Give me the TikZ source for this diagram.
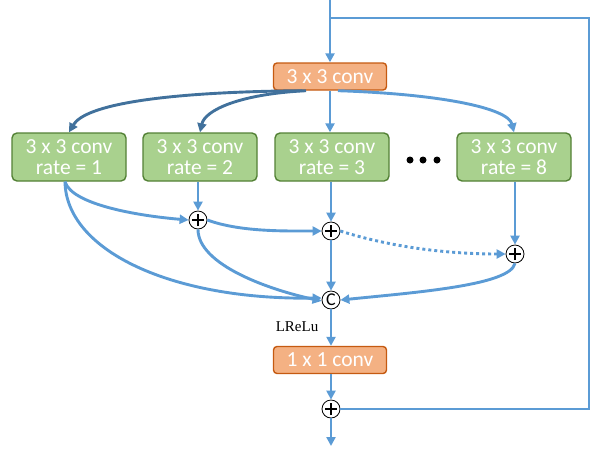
\documentclass[tikz,border=0pt]{standalone}
\usepackage{fontspec}
\setmainfont{Carlito}
\newfontfamily\timesf{Liberation Serif}
\usetikzlibrary{arrows.meta}
\definecolor{lblue}{HTML}{5B9BD5}
\definecolor{dblue}{HTML}{41719C}
\definecolor{ofill}{HTML}{F4B183}
\definecolor{odraw}{HTML}{C55A11}
\definecolor{gfill}{HTML}{A9D18E}
\definecolor{gdraw}{HTML}{538135}
\begin{document}
\begin{tikzpicture}[x=1pt,y=-1pt,
  line/.style={draw=lblue, line width=2.9pt},
  conn/.style={line, -{Triangle[length=9pt,width=9pt]}},
  connd/.style={conn, draw=dblue},
  obox/.style={draw=odraw, fill=ofill, line width=1.4pt, rounded corners=3.5pt,
    minimum width=113pt, minimum height=27pt, inner sep=0pt, text=white,
    font=\fontsize{21.5}{21.5}\selectfont},
  gbox/.style={draw=gdraw, fill=gfill, line width=1.4pt, rounded corners=5pt,
    minimum width=114pt, minimum height=48pt, inner sep=0pt, text=white,
    align=center, font=\fontsize{21.5}{21}\selectfont},
  opnode/.style={circle, draw=black, fill=white, line width=0.8pt,
    minimum size=18pt, inner sep=0pt},
  plusnode/.style={opnode, path picture={
    \draw[line width=2pt] ([xshift=-6pt]path picture bounding box.center) -- ([xshift=6pt]path picture bounding box.center);
    \draw[line width=2pt] ([yshift=-6pt]path picture bounding box.center) -- ([yshift=6pt]path picture bounding box.center);}},
  dot/.style={circle, fill=black, minimum size=7pt, inner sep=0pt}
]
\useasboundingbox (0,0) rectangle (592,451);

\node[obox] (conv1) at (330,76.5) {3 x 3 conv};
\node[gbox] (b1) at (69,157) {3 x 3 conv\\rate = 1};
\node[gbox] (b2) at (200,157) {3 x 3 conv\\rate = 2};
\node[gbox] (b3) at (332,157) {3 x 3 conv\\rate = 3};
\node[gbox] (b8) at (514,157) {3 x 3 conv\\rate = 8};
\node[dot] (d1) at (410,160) {};
\node[dot] (d2) at (423,160) {};
\node[dot] (d3) at (437,160) {};

\node[plusnode] (p2) at (198,220) {};
\node[plusnode] (p3) at (331,231) {};
\node[plusnode] (p8) at (515,254) {};
\node[opnode, font=\fontsize{18}{18}\selectfont] (c) at (331,300) {C};
\node[font=\timesf\fontsize{15}{15}\selectfont] (lrelu) at (297,327) {LReLu};
\node[obox] (conv2) at (330,360) {1 x 1 conv};
\node[plusnode] (pf) at (331,409) {};

\coordinate (top) at (330,0);
\coordinate (sk1) at (330,18);
\coordinate (sk2) at (589,18);
\coordinate (sk3) at (589,409);
\coordinate (out) at (331,446);

\draw[conn] (top) -- (conv1.north);
\draw[line] (sk1) -- (sk2) -- (sk3) -- (pf.east);

\draw[connd] ([xshift=-28pt]conv1.south) .. controls (160,92) and (85,105) .. (b1.north);
\draw[connd] ([xshift=-24pt]conv1.south) .. controls (240,94) and (205,110) .. (b2.north);
\draw[conn] (conv1.south) -- (conv1.south |- b3.north);
\draw[conn] ([xshift=8pt]conv1.south) .. controls (440,94) and (508,108) .. (b8.north);

\draw[conn] ([xshift=-4pt]b1.south) .. controls (72,205) and (140,216) .. (p2.west);
\draw[conn] ([xshift=-4pt]b1.south) .. controls (66,250) and (170,300) .. ([yshift=2pt]c.west);
\draw[conn] (b2.south -| p2) -- (p2.north);
\draw[conn] (p2.east) .. controls (240,232) and (285,231) .. (p3.west);
\draw[conn] (p2.south) .. controls (198,265) and (270,290) .. ([yshift=-1pt]c.west);
\draw[conn] (b3.south -| p3) -- (p3.north);
\draw[conn] (p3.south) -- (c.north);
\draw[conn, dash pattern=on 3pt off 3pt] (p3.east) .. controls (400,250) and (460,254) .. (p8.west);
\draw[conn] (b8.south -| p8) -- (p8.north);
\draw[conn] (p8.south) .. controls (510,285) and (420,292) .. (c.east);
\draw[conn] (c.south) -- (conv2.north -| c);
\draw[conn] (conv2.south -| pf) -- (pf.north);
\draw[conn] (pf.south) -- (out);
\end{tikzpicture}
\end{document}
